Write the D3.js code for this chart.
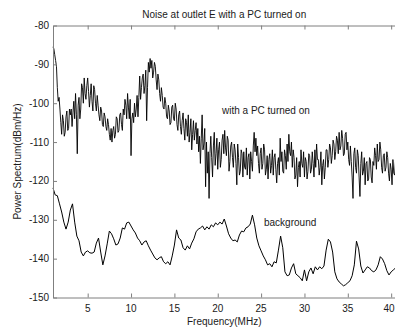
<!DOCTYPE html>
<html>
<head>
<meta charset="utf-8">
<script src="https://cdn.jsdelivr.net/npm/d3@7"></script>
<style>
  html, body { margin: 0; padding: 0; background: #fff; }
</style>
</head>
<body>
<svg width="395" height="329"></svg>
<script>
const width = 395;
const height = 329;

// frequency grid of each trace (MHz)
const pcStart = 1, pcStep = 0.1;
const bgStart = 1, bgStep = 0.25;

// power spectrum with a PC turned on (dBm/Hz)
const pcValues = [
  -85.5, -86.0, -87.5, -89.0, -90.5, -96.0, -99.5, -98.5, -101.5, -105.0,
  -108.0, -103.0, -104.5, -108.5, -107.5, -103.5, -102.0, -107.0, -106.5, -101.5,
  -103.0, -101.5, -106.0, -102.5, -99.5, -104.0, -97.5, -103.0, -113.0, -100.5,
  -98.5, -104.0, -101.5, -95.0, -96.0, -100.0, -93.5, -97.5, -99.0, -95.5,
  -93.5, -97.0, -101.0, -98.0, -95.0, -99.5, -102.0, -95.5, -96.5, -100.0,
  -102.0, -98.0, -100.5, -103.0, -104.5, -101.0, -102.0, -105.5, -106.0, -102.5,
  -103.5, -106.0, -107.0, -104.0, -105.5, -108.0, -109.5, -106.5, -110.0, -107.0,
  -106.0, -109.0, -108.0, -103.5, -104.0, -107.5, -107.0, -103.0, -102.5, -105.5,
  -107.0, -101.5, -103.0, -99.0, -100.5, -104.0, -97.5, -101.0, -104.0, -99.0,
  -113.5, -104.0, -102.5, -105.0, -100.0, -103.5, -101.5, -98.0, -103.5, -98.5,
  -93.0, -99.0, -96.0, -93.5, -92.5, -97.5, -95.5, -91.5, -104.5, -96.0,
  -89.5, -92.0, -88.5, -91.0, -89.0, -93.5, -92.0, -89.5, -90.5, -94.0,
  -96.5, -92.5, -94.0, -97.5, -99.5, -96.0, -98.0, -101.0, -101.5, -98.5,
  -100.0, -103.5, -104.0, -100.5, -102.0, -105.5, -105.0, -101.0, -100.5, -104.0,
  -104.5, -100.0, -101.5, -105.5, -107.0, -103.0, -102.0, -106.0, -108.0, -104.5,
  -102.5, -106.5, -109.5, -104.0, -105.0, -108.5, -103.0, -110.0, -107.5, -104.0,
  -112.0, -108.0, -104.5, -109.5, -107.0, -105.0, -110.5, -106.5, -112.5, -108.5,
  -115.5, -109.0, -103.0, -112.0, -110.5, -106.5, -121.5, -110.0, -118.0, -112.5,
  -124.5, -113.0, -108.5, -114.0, -119.0, -111.0, -107.5, -116.0, -113.0, -109.0,
  -117.0, -112.0, -110.0, -116.5, -114.5, -109.5, -108.0, -113.0, -107.0, -111.5,
  -113.5, -108.5, -109.5, -117.5, -115.0, -111.0, -110.0, -114.0, -116.5, -110.5,
  -112.0, -115.5, -121.0, -110.5, -114.0, -118.5, -117.5, -112.0, -113.0, -119.0,
  -112.5, -116.5, -117.0, -111.5, -118.5, -114.0, -113.0, -119.5, -112.5, -115.0,
  -117.5, -111.0, -107.5, -112.5, -109.0, -113.5, -111.0, -115.5, -118.0, -113.0,
  -111.5, -117.0, -115.5, -110.5, -112.0, -118.5, -117.0, -113.5, -119.5, -114.5,
  -113.0, -118.0, -116.0, -112.0, -118.5, -114.0, -113.0, -117.0, -120.5, -115.5,
  -114.0, -118.5, -109.0, -115.0, -112.5, -117.5, -118.0, -112.0, -113.5, -117.0,
  -110.5, -115.0, -108.0, -112.5, -113.5, -110.0, -116.5, -112.0, -114.0, -119.5,
  -118.5, -114.0, -121.5, -116.5, -115.0, -119.0, -112.0, -115.5, -116.5, -112.5,
  -119.0, -114.0, -115.0, -119.5, -117.5, -113.0, -113.5, -118.0, -117.0, -112.5,
  -115.5, -119.0, -112.0, -116.5, -110.5, -114.5, -114.5, -118.5, -116.5, -112.5,
  -121.0, -116.0, -114.5, -119.5, -116.5, -112.0, -112.0, -116.5, -114.5, -110.5,
  -111.5, -115.5, -113.5, -109.5, -110.5, -114.5, -112.5, -108.5, -109.5, -113.0,
  -107.5, -112.0, -111.0, -107.0, -109.0, -113.5, -113.0, -108.0, -107.5, -112.0,
  -110.0, -114.5, -116.0, -111.0, -115.0, -119.0, -124.5, -113.0, -111.5, -116.5,
  -118.0, -112.0, -113.5, -119.0, -124.0, -115.5, -112.5, -118.5, -117.5, -114.0,
  -121.0, -115.5, -115.0, -120.0, -119.5, -114.0, -114.5, -119.0, -120.5, -115.0,
  -116.0, -111.5, -113.5, -117.0, -110.5, -115.0, -114.5, -110.0, -112.0, -116.5,
  -118.0, -113.5, -113.0, -117.5, -116.5, -112.5, -114.0, -118.0, -120.0, -115.5,
  -117.0, -121.0, -114.5, -118.0, -118.5, -115.0
];

// background spectrum (dBm/Hz)
const bgValues = [
  -121.8, -123.6, -123.8, -125.9, -128.0, -130.6, -132.4, -130.6, -127.5, -125.9,
  -130.6, -134.2, -135.4, -138.3, -139.3, -138.3, -138.0, -138.5, -138.6, -138.3,
  -136.0, -134.7, -138.3, -141.6, -139.3, -136.2, -132.9, -133.6, -134.9, -136.5,
  -136.2, -134.7, -132.1, -132.4, -130.8, -130.6, -131.6, -132.6, -133.4, -134.7,
  -135.4, -136.5, -135.7, -135.4, -136.7, -137.8, -138.8, -139.8, -140.3, -139.8,
  -139.5, -140.8, -141.3, -140.8, -141.6, -139.3, -136.5, -132.6, -134.7, -135.2,
  -137.2, -137.8, -136.7, -137.5, -136.0, -134.9, -133.1, -132.4, -132.1, -131.6,
  -132.6, -131.8, -132.4, -131.3, -131.8, -130.8, -131.3, -130.6, -131.1, -129.8,
  -131.6, -133.6, -134.7, -135.4, -135.2, -135.7, -133.9, -132.9, -133.1, -132.1,
  -131.8, -131.1, -128.8, -131.3, -134.7, -136.7, -138.0, -139.3, -140.3, -141.6,
  -141.3, -142.1, -140.8, -141.1, -137.8, -134.2, -137.2, -143.4, -144.4, -144.2,
  -142.4, -141.3, -143.9, -144.4, -144.9, -145.7, -142.9, -145.7, -143.4, -142.4,
  -143.9, -142.1, -142.9, -142.1, -142.6, -141.9, -137.8, -135.0, -135.7, -138.3,
  -143.4, -145.2, -146.0, -146.5, -147.0, -146.7, -146.2, -145.7, -144.4, -141.6,
  -135.5, -137.5, -141.9, -143.7, -142.9, -142.1, -142.4, -143.1, -143.4, -142.9,
  -141.6, -139.5, -140.1, -141.3, -143.1, -144.2, -143.4, -142.9, -142.4
];

const xTicks = [5, 10, 15, 20, 25, 30, 35, 40];
const yTicks = [-80, -90, -100, -110, -120, -130, -140, -150];

const plotLeft = 53, plotRight = 395.5, plotTop = 25.5, plotBottom = 297.5;

const svg = d3.select("svg").attr("font-family", "Liberation Sans, Arial, sans-serif");

const x = d3.scaleLinear().domain([1, 40.5]).range([plotLeft, plotRight]);
const y = d3.scaleLinear().domain([-150, -80]).range([plotBottom, plotTop]);

const pcData = pcValues.map((v, i) => ({ f: pcStart + i * pcStep, v: v }));
const bgData = bgValues.map((v, i) => ({ f: bgStart + i * bgStep, v: v }));

const line = d3
  .line()
  .x((d) => x(d.f))
  .y((d) => y(d.v));

// traces
svg
  .append("path")
  .datum(pcData)
  .attr("fill", "none")
  .attr("stroke", "#000")
  .attr("stroke-width", 0.9)
  .attr("d", line);

svg
  .append("path")
  .datum(bgData)
  .attr("fill", "none")
  .attr("stroke", "#000")
  .attr("stroke-width", 1)
  .attr("d", line);

// axes box with inward ticks (matlab style)
const axisColor = "#7f7f7f";
const textColor = "#1a1a1a";

const bottomAxis = svg
  .append("g")
  .attr("transform", `translate(0, ${plotBottom})`)
  .call(d3.axisTop(x).tickValues(xTicks).tickSize(4).tickSizeOuter(0).tickFormat(""));
const topAxis = svg
  .append("g")
  .attr("transform", `translate(0, ${plotTop})`)
  .call(d3.axisBottom(x).tickValues(xTicks).tickSize(4).tickSizeOuter(0).tickFormat(""));
const leftAxis = svg
  .append("g")
  .attr("transform", `translate(${plotLeft}, 0)`)
  .call(d3.axisRight(y).tickValues(yTicks).tickSize(4).tickSizeOuter(0).tickFormat(""));

[bottomAxis, topAxis, leftAxis].forEach((g) => {
  g.select(".domain").attr("stroke", axisColor);
  g.selectAll(".tick line").attr("stroke", axisColor);
});

// tick labels (last one nudged so it stays inside the window)
svg
  .append("g")
  .selectAll("text")
  .data(xTicks)
  .join("text")
  .attr("x", (d) => Math.min(x(d), width - 6))
  .attr("y", 312)
  .attr("text-anchor", "middle")
  .attr("font-size", 10)
  .attr("fill", textColor)
  .text((d) => d);

svg
  .append("g")
  .selectAll("text")
  .data(yTicks)
  .join("text")
  .attr("x", plotLeft - 4)
  .attr("y", (d) => y(d) + 3.5)
  .attr("text-anchor", "end")
  .attr("font-size", 10)
  .attr("fill", textColor)
  .text((d) => d);

// titles
svg
  .append("text")
  .attr("x", (plotLeft + plotRight) / 2)
  .attr("y", 18)
  .attr("text-anchor", "middle")
  .attr("font-size", 10)
  .attr("fill", textColor)
  .text("Noise at outlet E with a PC turned on");

svg
  .append("text")
  .attr("x", (plotLeft + plotRight) / 2)
  .attr("y", 325)
  .attr("text-anchor", "middle")
  .attr("font-size", 10)
  .attr("fill", textColor)
  .text("Frequency(MHz)");

svg
  .append("text")
  .attr("transform", `translate(21, ${(plotTop + plotBottom) / 2}) rotate(-90)`)
  .attr("text-anchor", "middle")
  .attr("font-size", 10)
  .attr("fill", textColor)
  .text("Power Spectrum(dBm/Hz)");

// trace annotations
svg
  .append("text")
  .attr("x", 222)
  .attr("y", 114)
  .attr("font-size", 10)
  .attr("fill", textColor)
  .text("with a PC turned on");

svg
  .append("text")
  .attr("x", 264)
  .attr("y", 226)
  .attr("font-size", 10)
  .attr("fill", textColor)
  .text("background");
</script>
</body>
</html>
